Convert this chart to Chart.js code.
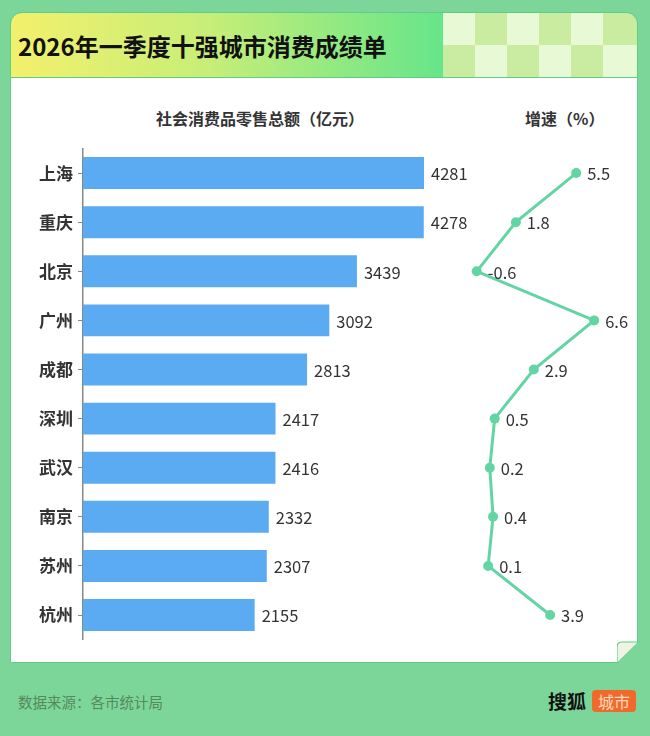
<!DOCTYPE html>
<html>
<head>
<meta charset="utf-8">
<script src="https://cdn.jsdelivr.net/npm/chart.js@4.4.1/dist/chart.umd.min.js"></script>
<style>
  html, body { margin:0; padding:0; }
  body { width:650px; height:736px; background:#7dd699; position:relative; overflow:hidden;
         font-family:"Noto Sans CJK SC","Noto Sans",sans-serif; }
  #card { position:absolute; left:10px; top:12px; width:628px; height:651px; background:#fff;
          border:1.5px solid #5ccf84; box-sizing:border-box; border-radius:12px 12px 0 0; }
  #header { position:absolute; left:10px; top:12px; width:628px; height:66px; box-sizing:border-box;
            border:1.5px solid #5ccf84; border-radius:12px 12px 0 0; overflow:hidden;
            background:linear-gradient(to right,#f3f06c 0px,#c6ee78 200px,#66e58a 433px); }
  .sq { position:absolute; }
  #title { position:absolute; left:18px; top:30px; font-size:24px; font-weight:700; color:#111; line-height:32px; }
  .axt { position:absolute; top:107px; font-size:16px; font-weight:700; color:#333; line-height:22px; white-space:nowrap; }
  #src { position:absolute; left:18px; top:691px; font-size:14.5px; color:#55895f; line-height:22px; }
  #sohu { position:absolute; left:548px; top:688px; font-size:19px; font-weight:700; color:#111; line-height:26px; }
  #city { position:absolute; left:592px; top:690px; width:44px; height:22px; background:#f26a2b; border-radius:4px;
          color:#ffd8bd; font-size:16px; line-height:22px; text-align:center; }
  #fold { position:absolute; left:617px; top:641px; }
  canvas { position:absolute; left:0; top:0; }
</style>
</head>
<body>
<div id="card"></div>
<div id="header"></div>
<div id="title">2026年一季度十强城市消费成绩单</div>
<div class="axt" style="left:156px;">社会消费品零售总额（亿元）</div>
<div class="axt" style="left:525px;">增速（%）</div>
<svg id="fold" width="23" height="23" viewBox="0 0 23 23">
  <path d="M0 22.5 L0 6 Q0 1 5 1 L22 1 Z" fill="#eef3e2" stroke="#5ccf84" stroke-width="1.2"/>
  <path d="M22 1 L22 23 L0 23 Z" fill="#7dd699"/>
</svg>
<div id="src">数据来源：各市统计局</div>
<div id="sohu">搜狐</div>
<div id="city">城市</div>
<canvas id="c" width="650" height="736"></canvas>
<script>
const cities = ["上海","重庆","北京","广州","成都","深圳","武汉","南京","苏州","杭州"];
const retailSales = [4281,4278,3439,3092,2813,2417,2416,2332,2307,2155];
const growthRate = [5.5,1.8,-0.6,6.6,2.9,0.5,0.2,0.4,0.1,3.9];

// header checker pattern
(function(){
  const h = document.getElementById('header');
  const light = '#e8f9d6', dark = '#c9eca0';
  const xs = [432,464,496,528,560,592,628];
  const ys = [0,32,66];
  for (let r=0;r<2;r++) for (let c=0;c<6;c++) {
    const d = document.createElement('div');
    d.className='sq';
    d.style.left = xs[c]+'px'; d.style.top = ys[r]+'px';
    d.style.width = (xs[c+1]-xs[c])+'px'; d.style.height = (ys[r+1]-ys[r])+'px';
    d.style.background = ((r+c)%2===0) ? light : dark;
    h.appendChild(d);
  }
})();

const labelPlugin = {
  id:'valueLabels',
  afterDatasetsDraw(chart){
    const ctx = chart.ctx;
    ctx.save();
    ctx.font = '16.5px "Noto Sans CJK SC","Noto Sans",sans-serif';
    ctx.fillStyle = '#333';
    ctx.textBaseline = 'middle';
    ctx.textAlign = 'left';
    chart.getDatasetMeta(0).data.forEach((el,i)=>{
      ctx.fillText(String(retailSales[i]), el.x + 7, el.y + 1);
    });
    chart.getDatasetMeta(1).data.forEach((el,i)=>{
      ctx.fillText(String(growthRate[i]), el.x + 11, el.y + 1);
    });
    ctx.restore();
  }
};

new Chart(document.getElementById('c'), {
  type:'bar',
  data:{
    labels: cities,
    datasets:[
      { type:'bar', data: retailSales, xAxisID:'x', backgroundColor:'#5aabf2', borderWidth:0,
        barPercentage:0.65, categoryPercentage:1.0 },
      { type:'line', data: growthRate, xAxisID:'x2', borderColor:'#63d5a4', backgroundColor:'#63d5a4',
        borderWidth:3, pointRadius:5, pointHoverRadius:5, pointBorderWidth:0, tension:0, clip:false }
    ]
  },
  plugins:[labelPlugin],
  options:{
    indexAxis:'y',
    responsive:false,
    animation:false,
    events:[],
    layout:{ padding:{ left:10, right:20, top:148.5, bottom:96.4 } },
    plugins:{ legend:{display:false}, tooltip:{enabled:false} },
    scales:{
      x:{ display:false, min:0, max:6867 },
      x2:{ display:false, min:-24.75, max:8.8 },
      y:{
        position:'left',
        afterFit(s){ s.width = 73; },
        grid:{ drawOnChartArea:false, drawTicks:true, tickLength:5, color:'#888', offset:false, lineWidth:1 },
        border:{ display:true, color:'#888', width:1.5 },
        ticks:{ color:'#333', padding:5, font:{ size:17, weight:'bold', family:'"Noto Sans CJK SC","Noto Sans",sans-serif' } }
      }
    }
  }
});
</script>
</body>
</html>
